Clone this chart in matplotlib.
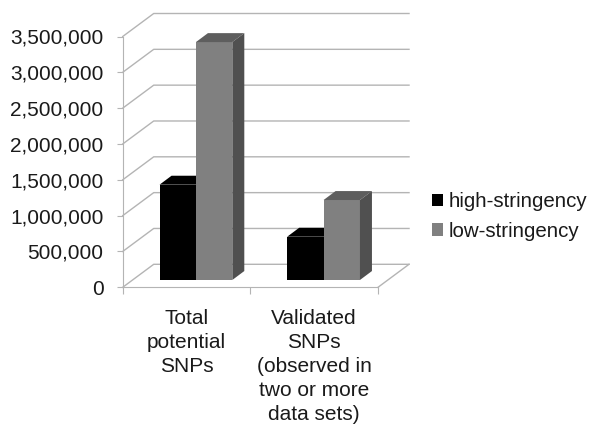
import matplotlib
matplotlib.use('Agg')
import matplotlib.pyplot as plt
from matplotlib.patches import Polygon

categories = ["Total\npotential\nSNPs", "Validated\nSNPs\n(observed in\ntwo or more\ndata sets)"]
high_stringency = [1330000, 604000]
low_stringency = [3320000, 1116000]
y_ticks = [0, 500000, 1000000, 1500000, 2000000, 2500000, 3000000, 3500000]

plt.rcParams['font.family'] = 'Liberation Sans'

GRID = '#b4b4b4'
TEXT = '#1a1a1a'
# fake 3d offsets, in data units
WALL_DX = 0.243
WALL_DY = 321000
BAR_DX = 0.094
BAR_DY = 125000
FLOOR_DX = 0.0736
FLOOR_DY = 102000
BAR_W = 0.285


def draw_bar(ax, x, value, front, top, side, label=None):
    ax.bar(x, value, BAR_W, bottom=FLOOR_DY, color=front, align='edge', zorder=3, label=label)
    y0 = FLOOR_DY
    y1 = FLOOR_DY + value
    ax.add_patch(Polygon([(x, y1), (x + BAR_W, y1), (x + BAR_W + BAR_DX, y1 + BAR_DY), (x + BAR_DX, y1 + BAR_DY)],
                         facecolor=top, edgecolor='none', clip_on=False, zorder=3))
    ax.add_patch(Polygon([(x + BAR_W, y0), (x + BAR_W + BAR_DX, y0 + BAR_DY), (x + BAR_W + BAR_DX, y1 + BAR_DY), (x + BAR_W, y1)],
                         facecolor=side, edgecolor='none', clip_on=False, zorder=3))


fig = plt.figure(figsize=(6, 4.3), dpi=100)
ax = fig.add_axes([122.7 / 600, 1 - 287.3 / 430, 255.3 / 600, 250.8 / 430])
ax.set_xlim(0, 2)
ax.set_ylim(0, 3500000)

# back wall and floor
for t in y_ticks:
    ax.plot([0, WALL_DX, 2 + WALL_DX], [t, t + WALL_DY, t + WALL_DY], color=GRID, lw=1, clip_on=False, zorder=1)
ax.plot([2, 2 + WALL_DX], [0, WALL_DY], color=GRID, lw=1, clip_on=False, zorder=1)

for i in range(len(categories)):
    x = i + 0.5 + FLOOR_DX - BAR_W
    draw_bar(ax, x, high_stringency[i], 'black', 'black', 'black', 'high-stringency' if i == 0 else None)
    draw_bar(ax, x + BAR_W, low_stringency[i], '#808080', '#5e5e5e', '#505050', 'low-stringency' if i == 0 else None)

ax.spines['top'].set_visible(False)
ax.spines['right'].set_visible(False)
ax.spines['left'].set_color(GRID)
ax.spines['bottom'].set_color(GRID)

ax.set_yticks(y_ticks)
ax.set_yticklabels([f"{t:,}" for t in y_ticks], fontsize=15, color=TEXT)
ax.tick_params(axis='y', length=4.3, color=GRID, pad=9.5)
ax.set_xticks([0, 1, 2])
ax.set_xticklabels([])
ax.tick_params(axis='x', which='major', length=5, color=GRID)
ax.set_xticks([0.5, 1.5], minor=True)
ax.set_xticklabels(categories, minor=True, fontsize=15, linespacing=1.34, color=TEXT)
ax.tick_params(axis='x', which='minor', length=0, pad=15.5)

ax.legend(loc='center left', bbox_to_anchor=(431.7 / 600, 1 - 216.5 / 430), bbox_transform=fig.transFigure,
          frameon=False, fontsize=14.8, handlelength=0.54, handleheight=0.54, handletextpad=0.26,
          labelspacing=0.52, borderpad=0, borderaxespad=0, labelcolor=TEXT)

fig.savefig('out.png', dpi=100)
